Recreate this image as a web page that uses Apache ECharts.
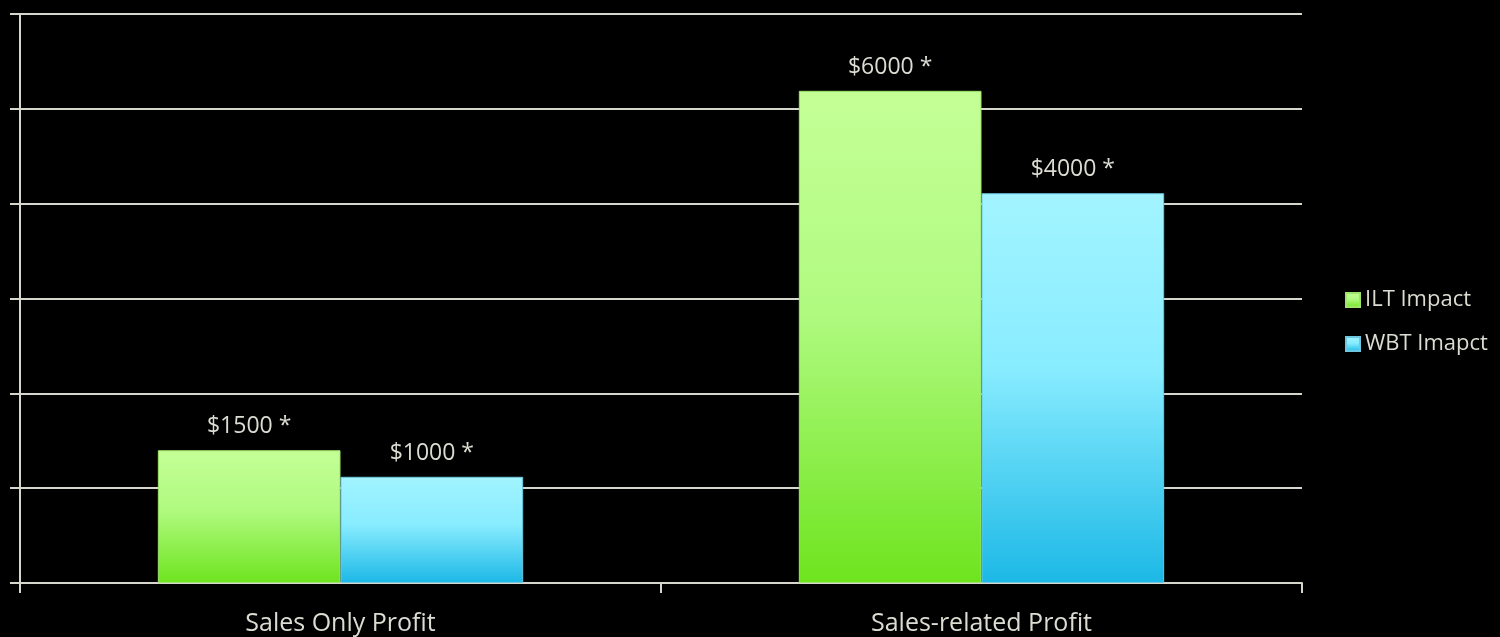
<!DOCTYPE html>
<html>
<head>
<meta charset="utf-8">
<script src="https://cdn.jsdelivr.net/npm/echarts@6/dist/echarts.min.js"></script>
<style>html,body{margin:0;padding:0;background:#000;}#c{width:1500px;height:637px;}</style>
</head>
<body>
<div id="c"></div>
<script>
const categories = ["Sales Only Profit", "Sales-related Profit"];
const seriesNames = ["ILT Impact", "WBT Imapct"];
const iltValues = [1.40, 5.19];
const wbtValues = [1.12, 4.11];
const iltLabels = ["$1500 *", "$6000 *"];
const wbtLabels = ["$1000 *", "$4000 *"];

const lineColor = '#d6d6cc';
const textColor = '#dcdcd2';
const font = '"Open Sans", "Noto Sans", sans-serif';

function grad(top, mid, bottom) {
  return new echarts.graphic.LinearGradient(0, 0, 0, 1, [
    {offset: 0, color: top}, {offset: 0.45, color: mid}, {offset: 1, color: bottom}
  ]);
}

const chart = echarts.init(document.getElementById('c'), null, {renderer: 'canvas'});
chart.setOption({
  backgroundColor: '#000',
  animation: false,
  grid: {left: 20, right: 198, top: 14, bottom: 54, containLabel: false},
  legend: {
    orient: 'vertical',
    left: 1340, top: 284,
    itemWidth: 14, itemHeight: 14, itemGap: 22,
    icon: 'rect',
    textStyle: {color: textColor, fontSize: 22, fontFamily: font},
    data: seriesNames
  },
  xAxis: {
    type: 'category',
    data: categories,
    axisLine: {lineStyle: {color: lineColor, width: 2}},
    axisTick: {show: true, length: 10, lineStyle: {color: lineColor, width: 2}},
    axisLabel: {color: textColor, fontSize: 25, fontFamily: font, margin: 28}
  },
  yAxis: {
    type: 'value', min: 0, max: 6, interval: 1,
    axisLine: {show: true, lineStyle: {color: lineColor, width: 2}},
    axisTick: {show: true, length: 10, lineStyle: {color: lineColor, width: 2}},
    axisLabel: {show: false},
    splitLine: {lineStyle: {color: lineColor, width: 2}}
  },
  series: [
    {
      name: seriesNames[0], type: 'bar', data: iltValues,
      barGap: '0%', barCategoryGap: '43%',
      itemStyle: {color: grad('#c4ff96', '#b0fa80', '#6ee41e'), borderColor: '#9ee36a', borderWidth: 1},
      label: {show: true, position: 'top', distance: 12, color: textColor, fontSize: 23, fontFamily: font,
        formatter: p => iltLabels[p.dataIndex]}
    },
    {
      name: seriesNames[1], type: 'bar', data: wbtValues,
      itemStyle: {color: grad('#a2f4ff', '#88ecff', '#1cb8e6'), borderColor: '#6cc8e0', borderWidth: 1},
      label: {show: true, position: 'top', distance: 12, color: textColor, fontSize: 23, fontFamily: font,
        formatter: p => wbtLabels[p.dataIndex]}
    }
  ]
});
</script>
</body>
</html>
